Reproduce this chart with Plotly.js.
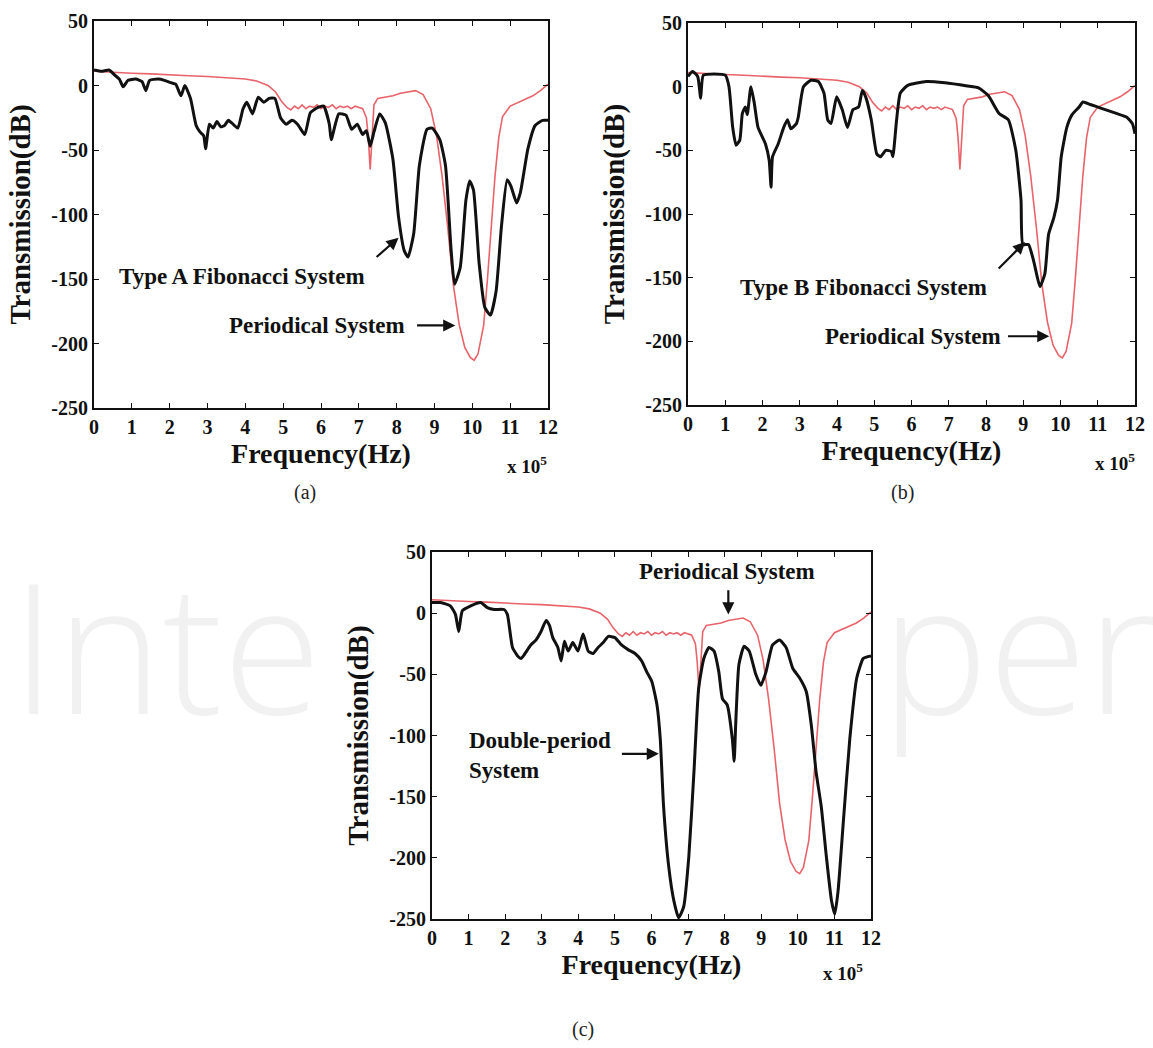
<!DOCTYPE html>
<html>
<head>
<meta charset="utf-8">
<script src="https://cdn.plot.ly/plotly-3.0.1.min.js"></script>
<style>html,body{margin:0;padding:0;background:#fff;}#chart{width:1153px;height:1048px;}</style>
</head>
<body>
<div id="chart"></div>
<script>
// Frequency in units of 1e5 Hz, transmission in dB
const periodicalFreq = [0, 0.5, 1, 1.5, 2, 2.5, 3, 3.5, 4, 4.3, 4.6, 4.8, 4.95, 5.1, 5.2, 5.3, 5.4, 5.5, 5.6, 5.7, 5.8, 5.9, 6.0, 6.1, 6.2, 6.3, 6.4, 6.5, 6.6, 6.7, 6.8, 6.9, 7.0, 7.1, 7.2, 7.25, 7.3, 7.35, 7.4, 7.5, 7.7, 7.9, 8.1, 8.3, 8.5, 8.7, 8.9, 9.05, 9.2, 9.35, 9.5, 9.65, 9.8, 9.95, 10.05, 10.15, 10.3, 10.4, 10.5, 10.6, 10.7, 10.8, 11.0, 11.3, 11.6, 11.8, 12];
const periodicalDB = [11, 10, 9.5, 9, 8, 7.5, 7, 6, 5, 3.5, 0, -5, -12, -17, -19, -16, -18, -15, -18, -16, -17, -15, -18, -16, -17, -15, -18, -16, -17, -16, -18, -16, -17, -18, -25, -40, -65, -35, -15, -10, -9, -8, -6, -5, -4, -7, -18, -38, -70, -110, -155, -185, -203, -211, -213, -208, -186, -150, -108, -70, -40, -24, -16, -12, -8, -4, 1];

const typeAFreq = [0, 0.2, 0.4, 0.55, 0.67, 0.77, 0.9, 1.1, 1.27, 1.37, 1.47, 1.7, 1.86, 2.05, 2.16, 2.3, 2.4, 2.55, 2.7, 2.8, 2.9, 2.95, 3.05, 3.15, 3.25, 3.35, 3.45, 3.55, 3.64, 3.8, 3.94, 4.04, 4.19, 4.34, 4.49, 4.63, 4.78, 4.93, 5.08, 5.23, 5.38, 5.57, 5.72, 5.92, 6.07, 6.22, 6.27, 6.47, 6.66, 6.81, 6.96, 7.1, 7.2, 7.3, 7.4, 7.55, 7.7, 7.9, 8.05, 8.2, 8.3, 8.45, 8.6, 8.8, 8.94, 9.14, 9.29, 9.44, 9.53, 9.68, 9.83, 9.93, 10.03, 10.18, 10.33, 10.48, 10.63, 10.77, 10.92, 11.02, 11.17, 11.27, 11.47, 11.66, 11.86, 12];
const typeADB = [12, 11, 12, 8, 5, -1, 4, 5, 3, -4, 4, 5, 4, 2, 1, -8, 0, -10, -31, -36, -39, -49, -30, -33, -28, -32, -31, -27, -29, -33, -18, -13, -22, -9, -13, -10, -10, -25, -30, -27, -30, -38, -21, -17, -16, -30, -42, -22, -23, -34, -30, -38, -35, -47, -36, -22, -29, -57, -102, -128, -133, -115, -62, -34, -33, -42, -62, -128, -154, -141, -89, -74, -81, -138, -172, -178, -159, -109, -73, -78, -91, -83, -49, -31, -27, -27];

const typeBFreq = [0, 0.12, 0.26, 0.34, 0.41, 0.7, 1.0, 1.1, 1.2, 1.29, 1.39, 1.46, 1.54, 1.59, 1.69, 1.78, 1.88, 2.08, 2.18, 2.23, 2.27, 2.42, 2.57, 2.67, 2.76, 2.91, 2.96, 3.1, 3.3, 3.5, 3.65, 3.75, 3.84, 3.99, 4.14, 4.28, 4.43, 4.58, 4.68, 4.77, 4.92, 5.07, 5.17, 5.31, 5.46, 5.5, 5.6, 5.7, 5.9, 6.4, 6.9, 7.5, 7.8, 8.06, 8.35, 8.6, 8.8, 8.94, 8.99, 9.14, 9.28, 9.38, 9.45, 9.58, 9.68, 9.82, 9.92, 10.02, 10.17, 10.31, 10.5, 10.6, 10.8, 11.1, 11.5, 11.78, 11.93, 12];
const typeBDB = [8, 12, 8, -9, 9, 10, 9, 0, -32, -46, -42, -21, -16, -22, 0, -13, -32, -45, -58, -79, -55, -45, -32, -26, -33, -29, -24, 0, 5, 4, -5, -26, -29, -8, -18, -32, -18, -16, -3, -8, -26, -53, -55, -50, -51, -55, -26, -5, 1, 4, 3, 0.5, -1, -7, -21, -26, -50, -89, -124, -124, -137, -150, -157, -147, -116, -103, -89, -55, -32, -22, -16, -12, -14, -17, -21, -24, -29, -37];

const doubleFreq = [0, 0.23, 0.5, 0.64, 0.73, 0.83, 1.06, 1.33, 1.51, 1.7, 1.97, 2.06, 2.2, 2.34, 2.43, 2.52, 2.7, 2.84, 2.98, 3.12, 3.21, 3.3, 3.44, 3.53, 3.62, 3.72, 3.85, 3.99, 4.13, 4.27, 4.4, 4.54, 4.68, 4.82, 5.0, 5.18, 5.37, 5.55, 5.73, 5.87, 6.01, 6.15, 6.24, 6.33, 6.47, 6.61, 6.74, 6.88, 7.02, 7.16, 7.29, 7.43, 7.57, 7.71, 7.84, 7.94, 8.07, 8.21, 8.26, 8.3, 8.39, 8.53, 8.67, 8.85, 8.99, 9.13, 9.31, 9.5, 9.68, 9.86, 10.05, 10.23, 10.37, 10.5, 10.64, 10.78, 10.92, 11.01, 11.1, 11.24, 11.42, 11.61, 11.79, 12];
const doubleDB = [8.7, 8.7, 6, -1, -15, 2, 6, 8.7, 4.6, 3, 3, -1, -28, -35, -37, -34, -26, -22, -15, -6, -10, -20, -28, -39, -23, -31, -24, -31, -17, -31, -33, -28, -24, -19, -20, -26, -30, -33, -39, -48, -56, -75, -103, -158, -207, -235, -249, -240, -199, -130, -61, -37, -28, -31, -48, -70, -75, -103, -121, -92, -42, -27, -31, -50, -59, -48, -26, -22, -28, -45, -53, -64, -92, -130, -158, -199, -235, -246, -227, -172, -103, -53, -37, -35];

const xTickVals = [0,1,2,3,4,5,6,7,8,9,10,11,12];
const xTickText = ['0','1','2','3','4','5','6','7','8','9','10','11','12'];
const yTickVals = [-250,-200,-150,-100,-50,0,50];
const yTickText = ['-250','-200','-150','-100','-50','0','50'];

const serif = 'Liberation Serif, Times New Roman, serif';
const redLine = {color:'#e8646a', width:1.6};
const blackLine = {color:'#111', width:3};

const traces = [
  {x: periodicalFreq, y: periodicalDB, xaxis:'x', yaxis:'y', mode:'lines', line:redLine, name:'Periodical System'},
  {x: typeAFreq, y: typeADB, xaxis:'x', yaxis:'y', mode:'lines', line:Object.assign({shape:'spline', smoothing:0.5}, blackLine), name:'Type A Fibonacci System'},
  {x: periodicalFreq, y: periodicalDB, xaxis:'x2', yaxis:'y2', mode:'lines', line:redLine, name:'Periodical System'},
  {x: typeBFreq, y: typeBDB, xaxis:'x2', yaxis:'y2', mode:'lines', line:Object.assign({shape:'spline', smoothing:0.5}, blackLine), name:'Type B Fibonacci System'},
  {x: periodicalFreq, y: periodicalDB, xaxis:'x3', yaxis:'y3', mode:'lines', line:redLine, name:'Periodical System'},
  {x: doubleFreq, y: doubleDB, xaxis:'x3', yaxis:'y3', mode:'lines', line:Object.assign({shape:'spline', smoothing:0.5}, blackLine), name:'Double-period System'}
];

function xAxis(domain, anchor){
  return {domain:domain, anchor:anchor, range:[0,12], tickvals:xTickVals, ticktext:xTickText,
    showline:true, mirror:'ticks', linecolor:'#111', linewidth:2, ticks:'inside', ticklen:5, tickcolor:'#111',
    showgrid:false, zeroline:false, tickfont:{family:serif, size:20, weight:'bold', color:'#111'},
    title:{text:'Frequency(Hz)', font:{family:serif, size:28, weight:'bold', color:'#111'}, standoff:6}};
}
function yAxis(domain, anchor){
  return {domain:domain, anchor:anchor, range:[-250,50], tickvals:yTickVals, ticktext:yTickText,
    showline:true, mirror:'ticks', linecolor:'#111', linewidth:2, ticks:'inside', ticklen:5, tickcolor:'#111',
    showgrid:false, zeroline:false, tickfont:{family:serif, size:20, weight:'bold', color:'#111'},
    title:{text:'Transmission(dB)', font:{family:serif, size:29, weight:'bold', color:'#111'}, standoff:12}};
}

const annFont = {family:serif, size:23, weight:'bold', color:'#111'};
const arrow = (xr, yr, x, y, ax, ay) => ({xref:xr, yref:yr, axref:xr, ayref:yr, x:x, y:y, ax:ax, ay:ay, text:'', showarrow:true, arrowhead:2, arrowsize:1.1, arrowwidth:2.2, arrowcolor:'#111'});
const label = (xr, yr, x, y, text, xanchor) => ({xref:xr, yref:yr, x:x, y:y, text:text, showarrow:false, font:annFont, xanchor:xanchor||'center', align:xanchor||'center'});
const paperText = (x, y, text, font) => ({xref:'paper', yref:'paper', x:x, y:y, text:text, showarrow:false, font:font, xanchor:'center', yanchor:'middle'});

const wmFont = {family:'Open Sans, sans-serif', size:180, weight:300, color:'#f1f1f1'};
const annotations = [
  {xref:'paper', yref:'paper', x:0.008, y:0.385, text:'Inte', showarrow:false, font:wmFont, xanchor:'left', yanchor:'middle'},
  {xref:'paper', yref:'paper', x:0.762, y:0.385, text:'pen', showarrow:false, font:wmFont, xanchor:'left', yanchor:'middle'},
  label('x','y', 3.9, -148, 'Type A Fibonacci System'),
  arrow('x','y', 8.05, -118, 7.43, -134),
  label('x','y', 5.9, -186, 'Periodical System'),
  arrow('x','y', 9.55, -186, 8.5, -186),
  label('x2','y2', 4.7, -158, 'Type B Fibonacci System'),
  arrow('x2','y2', 9.05, -122, 8.3, -144),
  label('x2','y2', 6.05, -196, 'Periodical System'),
  arrow('x2','y2', 9.7, -196, 8.55, -196),
  label('x3','y3', 8.05, 34, 'Periodical System'),
  arrow('x3','y3', 8.1, -1, 8.1, 20),
  label('x3','y3', 0.95, -116, 'Double-period<br>System', 'left'),
  arrow('x3','y3', 6.2, -115, 5.15, -115),
  paperText(0.457, 0.556, 'x 10<sup>5</sup>', {family:serif, size:19, weight:'bold', color:'#111'}),
  paperText(0.967, 0.559, 'x 10<sup>5</sup>', {family:serif, size:19, weight:'bold', color:'#111'}),
  paperText(0.731, 0.0725, 'x 10<sup>5</sup>', {family:serif, size:19, weight:'bold', color:'#111'}),
  paperText(0.2645, 0.5305, '(a)', {family:serif, size:20, color:'#222'}),
  paperText(0.783, 0.5305, '(b)', {family:serif, size:20, color:'#222'}),
  paperText(0.5056, 0.0172, '(c)', {family:serif, size:20, color:'#222'})
];

const layout = {
  width:1153, height:1048, margin:{l:0, r:0, t:0, b:0},
  paper_bgcolor:'#fff', plot_bgcolor:'#fff', showlegend:false,
  xaxis: xAxis([94/1153, 548/1153], 'y'),
  yaxis: yAxis([1-408/1048, 1-21/1048], 'x'),
  xaxis2: xAxis([688/1153, 1135/1153], 'y2'),
  yaxis2: yAxis([1-405/1048, 1-23/1048], 'x2'),
  xaxis3: xAxis([432/1153, 871/1153], 'y3'),
  yaxis3: yAxis([1-919/1048, 1-552/1048], 'x3'),
  annotations: annotations
};

Plotly.newPlot('chart', traces, layout, {staticPlot:true, displayModeBar:false});
</script>
</body>
</html>
